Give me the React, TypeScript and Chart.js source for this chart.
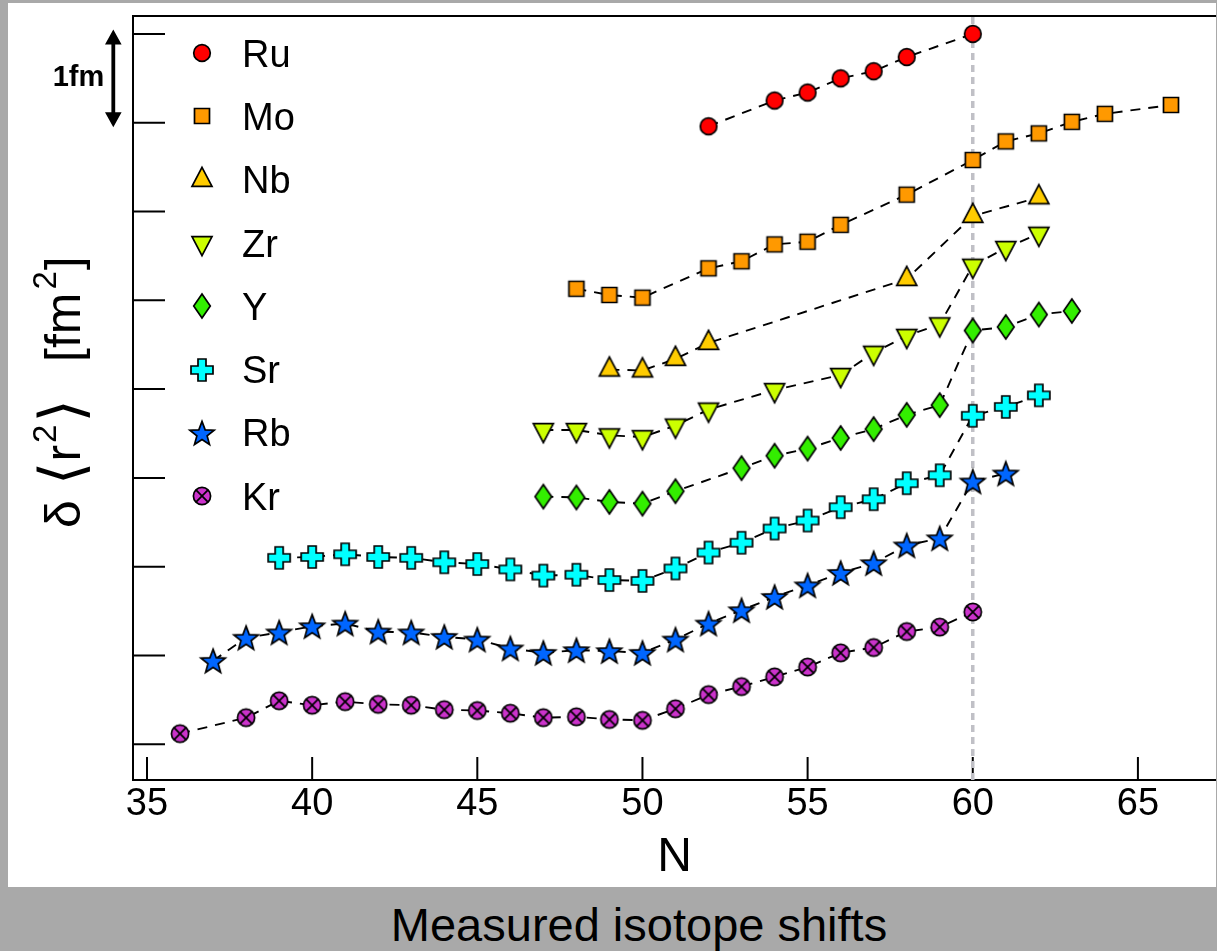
import React, { useEffect, useRef } from 'react';
import { Chart, registerables } from 'chart.js';

Chart.register(...registerables);

const FONT = '"Liberation Sans", Arial, Helvetica, sans-serif';

// ---- axis ticks / limits ----
const xTicks = [35, 40, 45, 50, 55, 60, 65];
const yTicks = [0, 1, 2, 3, 4, 5, 6, 7, 8];
const X_MIN = 34.576;
const X_MAX = 67.364;
const Y_MIN = -0.402;
const Y_MAX = 8.202;
const markLineN = 60;

// ---- series (neutron number N, delta <r^2> offset) ----
const ruN = [52, 54, 55, 56, 57, 58, 60];
const ruV = [6.96, 7.25, 7.34, 7.5, 7.58, 7.74, 8.0];

const moN = [48, 49, 50, 52, 53, 54, 55, 56, 58, 60, 61, 62, 63, 64, 66];
const moV = [5.13, 5.06, 5.03, 5.36, 5.44, 5.63, 5.66, 5.85, 6.19, 6.58, 6.79, 6.88, 7.01, 7.1, 7.2];

const nbN = [49, 50, 51, 52, 58, 60, 62];
const nbV = [4.22, 4.21, 4.34, 4.52, 5.24, 5.95, 6.16];

const zrN = [47, 48, 49, 50, 51, 52, 54, 56, 57, 58, 59, 60, 61, 62];
const zrV = [3.54, 3.54, 3.48, 3.46, 3.59, 3.77, 3.99, 4.16, 4.41, 4.6, 4.73, 5.39, 5.59, 5.75];

const yN = [47, 48, 49, 50, 51, 53, 54, 55, 56, 57, 58, 59, 60, 61, 62, 63];
const yV = [2.79, 2.78, 2.73, 2.71, 2.85, 3.11, 3.25, 3.33, 3.45, 3.55, 3.71, 3.82, 4.66, 4.7, 4.84, 4.88];

const srN = [39, 40, 41, 42, 43, 44, 45, 46, 47, 48, 49, 50, 51, 52, 53, 54, 55, 56, 57, 58, 59, 60, 61, 62];
const srV = [2.1, 2.11, 2.14, 2.11, 2.1, 2.05, 2.03, 1.97, 1.9, 1.91, 1.85, 1.84, 1.98, 2.16, 2.27, 2.43, 2.52, 2.67, 2.76, 2.94, 3.03, 3.7, 3.8, 3.93];

const rbN = [37, 38, 39, 40, 41, 42, 43, 44, 45, 46, 47, 48, 49, 50, 51, 52, 53, 54, 55, 56, 57, 58, 59, 60, 61];
const rbV = [0.94, 1.2, 1.26, 1.33, 1.36, 1.27, 1.26, 1.21, 1.18, 1.08, 1.03, 1.06, 1.05, 1.03, 1.18, 1.36, 1.51, 1.66, 1.79, 1.93, 2.04, 2.24, 2.32, 2.96, 3.05];

const krN = [36, 38, 39, 40, 41, 42, 43, 44, 45, 46, 47, 48, 49, 50, 51, 52, 53, 54, 55, 56, 57, 58, 59, 60];
const krV = [0.12, 0.3, 0.49, 0.44, 0.48, 0.45, 0.44, 0.39, 0.38, 0.35, 0.3, 0.31, 0.28, 0.27, 0.4, 0.56, 0.65, 0.76, 0.87, 1.03, 1.09, 1.27, 1.32, 1.49];

const labels = ['Ru', 'Mo', 'Nb', 'Zr', 'Y', 'Sr', 'Rb', 'Kr'];
const colors = ['#ff0000', '#ff9900', '#ffcc00', '#ccff00', '#33ee00', '#00ffff', '#0066ff', '#cc33cc'];
const shapes = ['circle', 'square', 'triUp', 'triDown', 'diamond', 'plus', 'star', 'xcircle'];
const seriesN = [ruN, moN, nbN, zrN, yN, srN, rbN, krN];
const seriesV = [ruV, moV, nbV, zrV, yV, srV, rbV, krV];

const MS = 32;

function makeMarker(kind: string, fill: string): HTMLCanvasElement {
  const c = document.createElement('canvas');
  c.width = MS;
  c.height = MS;
  const g = c.getContext('2d')!;
  const m = MS / 2;
  g.fillStyle = fill;
  g.strokeStyle = '#000';
  g.lineWidth = 1.7;
  g.lineJoin = 'miter';
  g.beginPath();
  if (kind === 'circle') {
    g.arc(m, m, 8.3, 0, Math.PI * 2);
  } else if (kind === 'square') {
    g.rect(m - 7.5, m - 7.5, 15, 15);
  } else if (kind === 'triUp') {
    const w = 20, h = 19;
    g.moveTo(m, m - (2 * h) / 3);
    g.lineTo(m + w / 2, m + h / 3);
    g.lineTo(m - w / 2, m + h / 3);
    g.closePath();
  } else if (kind === 'triDown') {
    const w = 20, h = 19;
    g.moveTo(m, m + (2 * h) / 3);
    g.lineTo(m + w / 2, m - h / 3);
    g.lineTo(m - w / 2, m - h / 3);
    g.closePath();
  } else if (kind === 'diamond') {
    g.moveTo(m, m - 12);
    g.lineTo(m + 8.3, m);
    g.lineTo(m, m + 12);
    g.lineTo(m - 8.3, m);
    g.closePath();
  } else if (kind === 'plus') {
    const a = 11, b = 4;
    const pts = [[-b, -a], [b, -a], [b, -b], [a, -b], [a, b], [b, b], [b, a], [-b, a], [-b, b], [-a, b], [-a, -b], [-b, -b]];
    pts.forEach((p, i) => (i === 0 ? g.moveTo(m + p[0], m + p[1]) : g.lineTo(m + p[0], m + p[1])));
    g.closePath();
  } else if (kind === 'star') {
    const R = 12.8, r = 5.4, cy = m + 1.2;
    for (let i = 0; i < 10; i++) {
      const ang = -Math.PI / 2 + (i * Math.PI) / 5;
      const rr = i % 2 === 0 ? R : r;
      const px = m + rr * Math.cos(ang), py = cy + rr * Math.sin(ang);
      if (i === 0) g.moveTo(px, py); else g.lineTo(px, py);
    }
    g.closePath();
  } else if (kind === 'xcircle') {
    g.arc(m, m, 8.6, 0, Math.PI * 2);
  }
  g.fill();
  g.stroke();
  if (kind === 'xcircle') {
    const d = 8.6 * 0.707;
    g.beginPath();
    g.moveTo(m - d, m - d);
    g.lineTo(m + d, m + d);
    g.moveTo(m + d, m - d);
    g.lineTo(m - d, m + d);
    g.stroke();
  }
  return c;
}

export default function App() {
  const ref = useRef<HTMLCanvasElement>(null);

  useEffect(() => {
    const canvas = ref.current!;
    const markers = shapes.map((s, i) => makeMarker(s, colors[i]));

    const datasets: any[] = labels.map((lab, i) => ({
      label: lab,
      data: seriesN[i].map((n, j) => ({ x: n, y: seriesV[i][j] })),
      showLine: true,
      borderColor: '#000',
      borderWidth: 1.9,
      borderDash: [10, 8],
      pointStyle: markers[i],
      pointRadius: 10,
      pointHoverRadius: 10,
      tension: 0,
      fill: false,
      order: 1,
    }));
    datasets.push({
      label: 'N=60',
      data: [
        { x: markLineN, y: Y_MIN },
        { x: markLineN, y: Y_MAX },
      ],
      showLine: true,
      borderColor: '#c0c0c6',
      borderWidth: 3.5,
      borderDash: [7, 5],
      pointRadius: 0,
      order: 10,
    });

    const decor = {
      id: 'decor',
      beforeDatasetsDraw(chart: any) {
        const { ctx, chartArea: a, scales } = chart;
        const x = scales.x, y = scales.y;
        ctx.save();
        ctx.strokeStyle = '#000';
        ctx.lineWidth = 2;
        ctx.beginPath();
        ctx.moveTo(a.left - 1, a.top);
        ctx.lineTo(a.right, a.top);
        yTicks.forEach((v) => {
          const py = y.getPixelForValue(v);
          ctx.moveTo(a.left, py);
          ctx.lineTo(a.left + 32, py);
        });
        xTicks.forEach((v) => {
          const px = x.getPixelForValue(v);
          ctx.moveTo(px, a.bottom);
          ctx.lineTo(px, a.bottom - 23);
        });
        ctx.stroke();
        ctx.restore();
      },
      afterDatasetsDraw(chart: any) {
        const { ctx, chartArea: a, scales } = chart;
        const y = scales.y;
        ctx.save();
        // legend
        ctx.fillStyle = '#000';
        ctx.font = `38px ${FONT}`;
        ctx.textAlign = 'left';
        ctx.textBaseline = 'alphabetic';
        labels.forEach((lab, i) => {
          const cy = a.top + 37 + i * 63.3;
          const cx = a.left + 69;
          ctx.drawImage(markers[i], Math.round(cx - MS / 2), Math.round(cy - MS / 2));
          ctx.fillText(lab, a.left + 109, cy + 13.6);
        });

        // 1fm scale arrow
        const ax = a.left - 19.7;
        const yTop = y.getPixelForValue(8) - 4.5;
        const yBot = y.getPixelForValue(7) + 4.5;
        const hl = 15, hw = 8.3;
        ctx.strokeStyle = '#000';
        ctx.lineWidth = 3.8;
        ctx.beginPath();
        ctx.moveTo(ax, yTop + hl - 2);
        ctx.lineTo(ax, yBot - hl + 2);
        ctx.stroke();
        ctx.beginPath();
        ctx.moveTo(ax, yTop);
        ctx.lineTo(ax + hw, yTop + hl);
        ctx.lineTo(ax - hw, yTop + hl);
        ctx.closePath();
        ctx.moveTo(ax, yBot);
        ctx.lineTo(ax + hw, yBot - hl);
        ctx.lineTo(ax - hw, yBot - hl);
        ctx.closePath();
        ctx.fill();
        ctx.font = `bold 29px ${FONT}`;
        ctx.textAlign = 'right';
        ctx.fillText('1fm', ax - 9, (yTop + yBot) / 2 + 8);

        // y axis title  δ ⟨r²⟩  [fm²]
        const cyMid = (a.top + a.bottom) / 2;
        ctx.translate(72, cyMid + 130);
        ctx.rotate(-Math.PI / 2);
        ctx.textAlign = 'left';
        const big = `50px ${FONT}`;
        const sup = `33px ${FONT}`;
        const bracket = `60px "DejaVu Sans", ${FONT}`;
        ctx.font = big;
        ctx.fillText('δ', 0, 0);
        let t = 43;
        ctx.font = bracket;
        ctx.fillText('⟨', t, 2);
        t += ctx.measureText('⟨').width;
        ctx.font = big;
        ctx.fillText('r', t, 0);
        t += ctx.measureText('r').width + 2;
        ctx.font = sup;
        ctx.fillText('2', t, -24);
        t += ctx.measureText('2').width + 2;
        ctx.font = bracket;
        ctx.fillText('⟩', t, 2);
        t = 166;
        ctx.font = big;
        ctx.fillText('[fm', t, 0);
        t += ctx.measureText('[fm').width + 3;
        ctx.font = sup;
        ctx.fillText('2', t, -24);
        t += ctx.measureText('2').width + 1;
        ctx.font = big;
        ctx.fillText(']', t, 0);
        ctx.restore();
      },
    };

    const chart = new Chart(canvas, {
      type: 'scatter',
      data: { datasets },
      options: {
        responsive: false,
        animation: false,
        devicePixelRatio: 1,
        events: [],
        layout: { autoPadding: false, padding: { top: 13, left: 0, right: 0, bottom: 0 } },
        plugins: {
          legend: { display: false },
          tooltip: { enabled: false },
          title: { display: false },
        },
        scales: {
          x: {
            type: 'linear',
            min: X_MIN,
            max: X_MAX,
            afterBuildTicks: (s: any) => {
              s.ticks = xTicks.map((v) => ({ value: v }));
            },
            afterFit: (s: any) => {
              s.height = 107;
            },
            grid: { display: false, drawTicks: false },
            border: { display: true, color: '#000', width: 2 },
            ticks: {
              color: '#000',
              font: { family: FONT, size: 38 },
              padding: 2,
              maxRotation: 0,
              autoSkip: false,
            },
            title: {
              display: true,
              text: 'N',
              color: '#000',
              font: { family: FONT, size: 48 },
              padding: { top: 0, bottom: 0 },
            },
          },
          y: {
            type: 'linear',
            min: Y_MIN,
            max: Y_MAX,
            afterBuildTicks: (s: any) => {
              s.ticks = yTicks.map((v) => ({ value: v }));
            },
            afterFit: (s: any) => {
              s.width = 125;
            },
            grid: { display: false, drawTicks: false },
            border: { display: true, color: '#000', width: 2 },
            ticks: { display: false },
          },
        },
      } as any,
      plugins: [decor],
    });
    return () => chart.destroy();
  }, []);

  return (
    <div
      style={{
        position: 'fixed',
        left: 0,
        top: 0,
        width: 1217,
        height: 951,
        background: '#a9a9a9',
        overflow: 'hidden',
      }}
    >
      <div style={{ position: 'absolute', left: 8, top: 3, width: 1208, height: 884, background: '#fff' }}>
        <canvas ref={ref} width={1208} height={884} style={{ display: 'block', width: 1208, height: 884 }} />
      </div>
      <div
        style={{
          position: 'absolute',
          left: 639,
          top: 901,
          transform: 'translateX(-50%)',
          whiteSpace: 'nowrap',
          fontFamily: FONT,
          fontSize: 47,
          lineHeight: '47px',
          color: '#000',
        }}
      >
        Measured isotope shifts
      </div>
    </div>
  );
}
